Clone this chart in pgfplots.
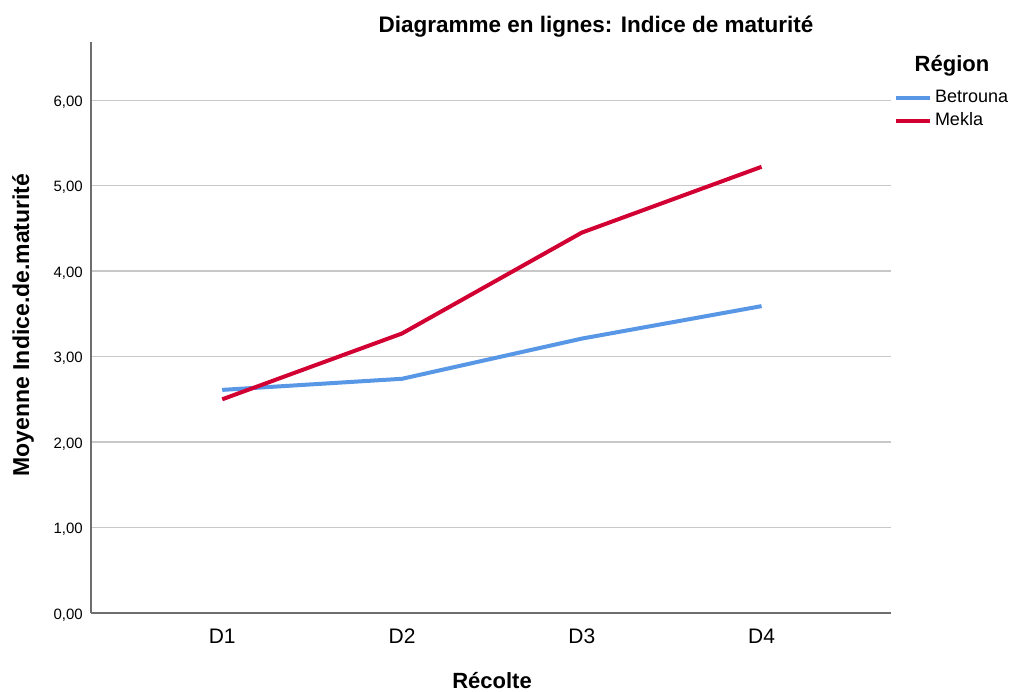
\documentclass[border=0pt]{standalone}
\usepackage{pgfplots}
\pgfplotsset{compat=1.18}
\usepackage{fontspec}
\setmainfont{Liberation Sans}
\definecolor{bleu}{RGB}{88,150,230}
\definecolor{rouge}{RGB}{210,0,50}
\definecolor{grille}{RGB}{200,200,200}
\definecolor{axe}{RGB}{110,110,110}
\begin{document}
\begin{tikzpicture}[x=1pt,y=1pt]
\path[use as bounding box] (0,0) rectangle (1011,691);
\begin{axis}[
  at={(91pt,78pt)}, anchor=south west,
  width=800pt, height=571pt, scale only axis,
  xmin=0.27, xmax=4.72, ymin=0, ymax=6.68,
  axis lines*=left,
  axis line style={axe, line width=1.3pt},
  xtick={1,2,3,4}, xticklabels={D1,D2,D3,D4},
  ytick={0,1,2,3,4,5,6},
  yticklabels={{0,00},{1,00},{2,00},{3,00},{4,00},{5,00},{6,00}},
  major tick length=0pt,
  ymajorgrids, grid style={grille, line width=1.2pt},
  yticklabel style={font=\fontsize{15}{17}\selectfont, anchor=east, inner sep=0pt, xshift=-8pt, yshift=-2pt},
  xticklabel style={font=\fontsize{21}{24}\selectfont, anchor=base, inner sep=0pt, yshift=-30pt},
  legend style={draw=none, fill=none, at={(1.0035,0.918)}, anchor=north west,
    font=\fontsize{18}{20}\selectfont, inner sep=0pt, row sep=6pt,
    nodes={inner sep=0pt, text height=13pt, text depth=4pt}},
  legend image code/.code={\draw[#1] (0pt,0pt) -- (34pt,0pt);},
  legend cell align=left,
]
\addplot[bleu, line width=4pt] coordinates {(1,2.61) (2,2.74) (3,3.21) (4,3.59)};
\addlegendentry{\hspace{3pt}Betrouna}
\addplot[rouge, line width=4pt] coordinates {(1,2.50) (2,3.27) (3,4.45) (4,5.22)};
\addlegendentry{\hspace{3pt}Mekla}
\end{axis}
\node[font=\fontsize{22.5}{26}\selectfont\bfseries, anchor=base] at (596,658) {Diagramme en lignes: Indice de maturité};
\node[font=\fontsize{23}{26}\selectfont\bfseries, rotate=90, anchor=base] at (29,366) {Moyenne Indice.de.maturité};
\node[font=\fontsize{22}{26}\selectfont\bfseries, anchor=base] at (492,3) {Récolte};
\node[font=\fontsize{22}{26}\selectfont\bfseries, anchor=base] at (952,619) {Région};
\end{tikzpicture}
\end{document}
